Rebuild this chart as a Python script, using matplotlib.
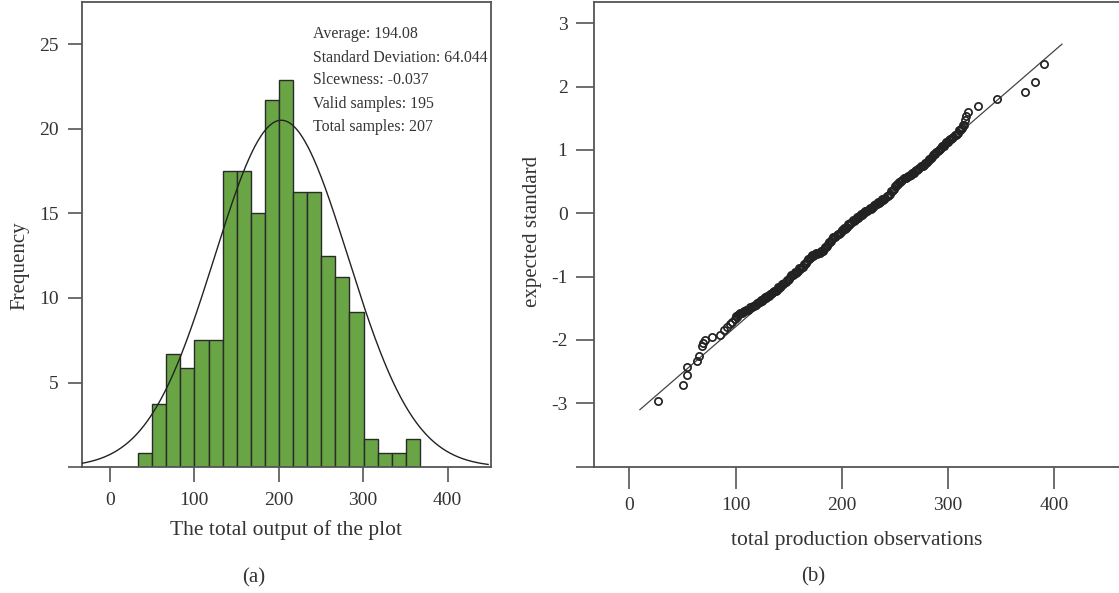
import matplotlib
matplotlib.use('Agg')
import matplotlib.pyplot as plt
import numpy as np

plt.rcParams['font.family'] = ['Liberation Serif', 'DejaVu Serif']

# histogram (a)
bin_edges = [33.5, 50.2, 66.9, 83.5, 100.2, 116.9, 133.6, 150.3, 166.9, 183.6,
             200.3, 217.0, 233.7, 250.3, 267.0, 283.7, 300.4, 317.0, 333.7,
             350.4, 367.1]
freq = [0.83, 3.75, 6.7, 5.85, 7.5, 7.5, 17.5, 17.5, 15.0, 21.7,
        22.9, 16.25, 16.25, 12.5, 11.25, 9.15, 1.65, 0.83, 0.83, 1.65]

# fitted curve
curve_mean = 203.0
curve_sd = 79.0
curve_peak = 20.5

stats_lines = ['Average: 194.08', 'Standard Deviation: 64.044',
               'Slcewness: -0.037', 'Valid samples: 195', 'Total samples: 207']

# Q-Q plot (b)
qq_x = [27.3, 50.2, 54.0, 54.5, 63.4, 65.8, 68.0, 69.6, 71.0, 77.5, 85.3,
        89.0, 91.6, 94.7, 97.0,
        99, 101, 103, 105, 107, 109, 111, 113, 115, 117, 119, 121, 123, 125,
        127, 129, 131, 133, 135, 137, 139, 141, 143, 145, 147, 149,
        151, 153, 155, 157, 159, 161, 163, 165, 167, 169, 171, 173, 175, 177,
        179, 181, 183, 185, 187, 189, 191, 193, 195, 197, 199,
        201, 203, 205, 207, 209, 211, 213, 215, 217, 219, 221, 223, 225, 227,
        229, 231, 233, 235, 237, 239, 241, 243, 245, 247, 249,
        251, 253, 255, 257, 259, 261, 263, 265, 267, 269, 271, 273, 275, 277,
        279, 281, 283, 285, 287, 289, 291, 293, 295, 297, 299, 301, 303, 305,
        307, 309, 311, 313, 315,
        315.5, 317.0, 318.8, 328.0, 345.5, 372.0, 381.5, 390.0]
qq_y = [-2.96, -2.71, -2.55, -2.43, -2.33, -2.25, -2.09, -2.04, -2.00, -1.96,
        -1.92, -1.85, -1.80, -1.75, -1.71,
        -1.67, -1.63, -1.59, -1.58, -1.56, -1.55, -1.53, -1.51, -1.48, -1.46,
        -1.44, -1.42, -1.40, -1.38, -1.35, -1.33, -1.30, -1.28, -1.25, -1.23,
        -1.21, -1.18, -1.15, -1.12, -1.09, -1.05,
        -1.00, -0.98, -0.96, -0.94, -0.91, -0.88, -0.84, -0.80, -0.76, -0.72,
        -0.69, -0.67, -0.65, -0.64, -0.62, -0.60, -0.57, -0.53, -0.49, -0.45,
        -0.41, -0.38, -0.35, -0.32, -0.29,
        -0.27, -0.24, -0.21, -0.18, -0.15, -0.12, -0.09, -0.07, -0.04, -0.02,
        0.01, 0.03, 0.05, 0.07, 0.10, 0.13, 0.15, 0.17, 0.19, 0.21, 0.24,
        0.27, 0.31, 0.35, 0.39,
        0.43, 0.47, 0.50, 0.53, 0.55, 0.57, 0.59, 0.61, 0.63, 0.66, 0.69,
        0.72, 0.74, 0.77, 0.80, 0.83, 0.86, 0.89, 0.93, 0.97, 1.00, 1.03,
        1.06, 1.09, 1.12, 1.15, 1.18, 1.21, 1.24, 1.27, 1.31, 1.35, 1.39,
        1.47, 1.53, 1.60, 1.70, 1.80, 1.91, 2.07, 2.35]
# second layer of the dense band
qq_x2 = [100, 102, 104, 106, 108, 110, 112, 114, 116, 118, 120, 122, 124,
         126, 128, 130, 132, 134, 136, 138, 140, 142, 144, 146, 148, 150,
         152, 154, 156, 158, 160, 162, 164, 166, 168, 170, 172, 174, 176,
         178, 180, 182, 184, 186, 188, 190, 192, 194, 196, 198, 200,
         202, 204, 206, 208, 210, 212, 214, 216, 218, 220, 222, 224, 226,
         228, 230, 232, 234, 236, 238, 240, 242, 244, 246, 248, 250,
         252, 254, 256, 258, 260, 262, 264, 266, 268, 270, 272, 274, 276,
         278, 280, 282, 284, 286, 288, 290, 292, 294, 296, 298, 300, 302,
         304, 306, 308, 310, 312, 314]
qq_y2 = [-1.62, -1.60, -1.57, -1.58, -1.54, -1.52, -1.53, -1.48, -1.46, -1.45,
         -1.41, -1.40, -1.37, -1.36, -1.32, -1.31, -1.27, -1.26, -1.22, -1.22,
         -1.17, -1.16, -1.11, -1.10, -1.05, -1.03,
         -0.97, -0.97, -0.93, -0.93, -0.87, -0.86, -0.80, -0.79, -0.72, -0.71,
         -0.66, -0.66, -0.63, -0.62, -0.59, -0.59, -0.53, -0.51, -0.45, -0.44,
         -0.37, -0.37, -0.32, -0.31, -0.26,
         -0.23, -0.23, -0.17, -0.16, -0.11, -0.10, -0.06, -0.05, -0.01, 0.00,
         0.04, 0.04, 0.08, 0.09, 0.13, 0.14, 0.18, 0.18, 0.22, 0.23, 0.27,
         0.29, 0.35, 0.37, 0.43,
         0.46, 0.50, 0.51, 0.55, 0.56, 0.59, 0.60, 0.63, 0.64, 0.69, 0.70,
         0.74, 0.75, 0.80, 0.81, 0.86, 0.87, 0.92, 0.94, 0.99, 1.01, 1.06,
         1.07, 1.12, 1.13, 1.18, 1.19, 1.24, 1.25, 1.31, 1.33, 1.39]
ref_x = [10, 407]
ref_y = [-3.1, 2.67]

spine_c = '#555555'
txt_c = '#333333'

fig = plt.figure(figsize=(11.19, 5.93), dpi=100)

# ---- (a)
ax1 = fig.add_axes([0.0733, 0.2120, 0.3652, 0.7851])
ax1.bar(bin_edges[:-1], freq, width=np.diff(bin_edges), align='edge',
        color='#69a545', edgecolor='#2a2a2a', linewidth=1.0, zorder=2)
xs = np.linspace(-33, 448, 400)
ax1.plot(xs, curve_peak * np.exp(-0.5 * ((xs - curve_mean) / curve_sd) ** 2),
         color='#222222', linewidth=1.0, zorder=3)
ax1.set_xlim(-33, 451)
ax1.set_ylim(0, 27.5)
ax1.set_xticks([0, 100, 200, 300, 400])
ax1.set_yticks([0, 5, 10, 15, 20, 25])
ax1.set_yticklabels(['', '5', '10', '15', '20', '25'])
ax1.tick_params(axis='y', length=10, width=1.2, pad=7, labelsize=14,
                color=spine_c, labelcolor=txt_c)
ax1.tick_params(axis='x', length=11, width=1.2, pad=7, labelsize=14,
                color=spine_c, labelcolor=txt_c)
for s in ax1.spines.values():
    s.set_color(spine_c)
    s.set_linewidth(1.3)
ax1.set_xlabel('The total output of the plot', fontsize=15.5, color=txt_c,
               labelpad=8)
ax1.set_ylabel('Frequency', fontsize=15, color=txt_c)
ax1.yaxis.set_label_coords(-0.128, 0.432)
line_y = [0.931, 0.880, 0.831, 0.780, 0.730]
for t, yy in zip(stats_lines, line_y):
    ax1.text(0.565, yy, t, transform=ax1.transAxes, fontsize=11.4,
             color=txt_c, va='center', ha='left')

# ---- (b)
ax2 = fig.add_axes([0.5308, 0.2130, 0.4695, 0.7841])
ax2.plot(ref_x, ref_y, color='#444444', linewidth=0.9, zorder=2)
for px, py in [(qq_x, qq_y), (qq_x2, qq_y2)]:
    ax2.plot(px, py, linestyle='none', marker='o', markersize=5.2,
             markerfacecolor='none', markeredgecolor='#222222',
             markeredgewidth=1.25, zorder=3)
ax2.set_xlim(-33.2, 461)
ax2.set_ylim(-4, 3.34)
ax2.set_xticks([0, 100, 200, 300, 400])
ax2.set_yticks([-4, -3, -2, -1, 0, 1, 2, 3])
ax2.set_yticklabels(['', '-3', '-2', '-1', '0', '1', '2', '3'])
ax2.tick_params(axis='y', length=13, width=1.2, pad=6, labelsize=14,
                color=spine_c, labelcolor=txt_c)
ax2.tick_params(axis='x', length=16, width=1.2, pad=6, labelsize=14,
                color=spine_c, labelcolor=txt_c)
ax2.spines['right'].set_visible(False)
for s in ['left', 'bottom', 'top']:
    ax2.spines[s].set_color(spine_c)
    ax2.spines[s].set_linewidth(1.3)
ax2.set_xlabel('total production observations', fontsize=15.5, color=txt_c,
               labelpad=12)
ax2.set_ylabel('expected standard', fontsize=15, color=txt_c)
ax2.yaxis.set_label_coords(-0.099, 0.505)

fig.text(0.2265, 0.017, '(a)', fontsize=15, color=txt_c, ha='center')
fig.text(0.7265, 0.020, '(b)', fontsize=15, color=txt_c, ha='center')

fig.savefig('out.png', dpi=100)
